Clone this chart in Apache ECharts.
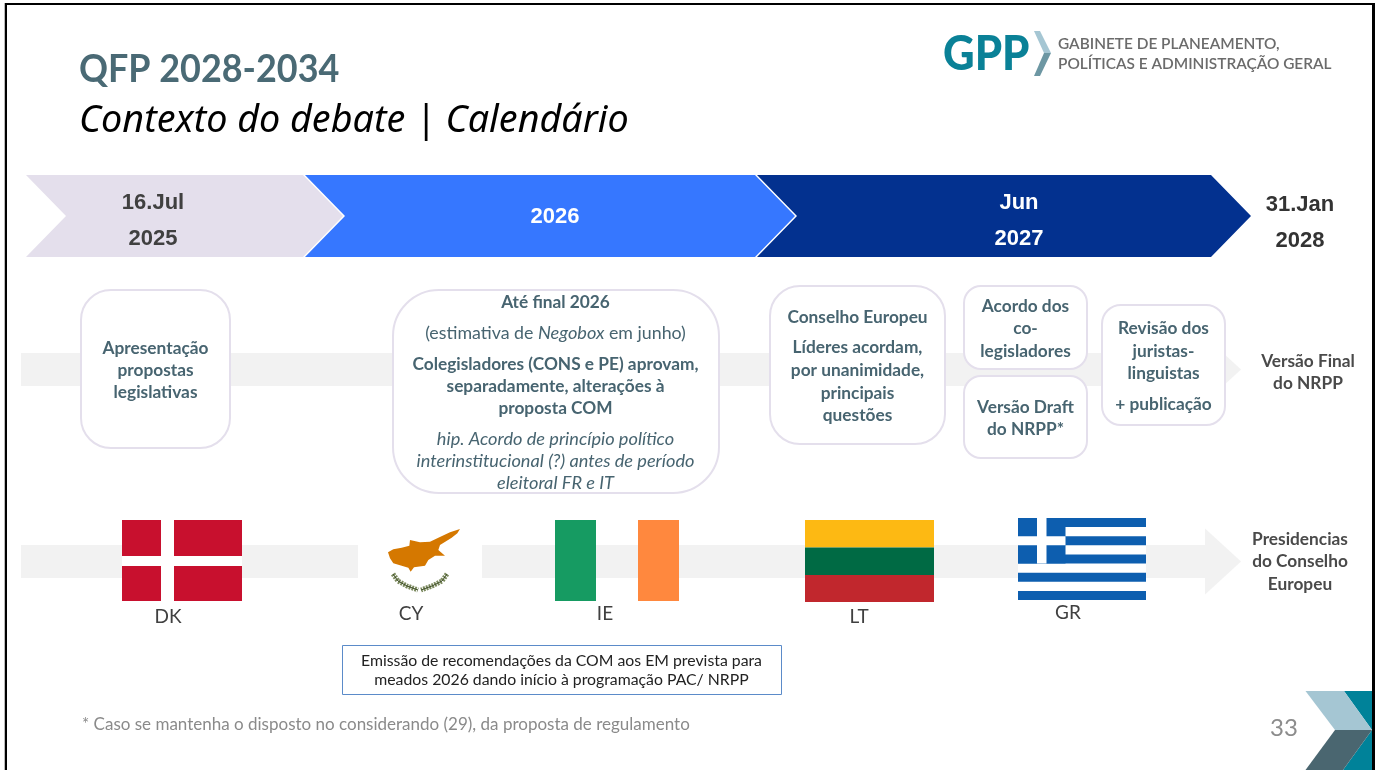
<!DOCTYPE html>
<html>
<head>
<meta charset="utf-8">
<title>QFP 2028-2034</title>
<script src="https://cdn.jsdelivr.net/npm/echarts@6/dist/echarts.min.js"></script>
<style>
  html, body { margin: 0; padding: 0; background: #fff; }
  #main { width: 1376px; height: 770px; }
</style>
</head>
<body>
<div id="main"></div>
<script>
// Textos do slide
const titulo = 'QFP 2028-2034';
const subtitulo = 'Contexto do debate | Calendário';
const logoSigla = 'GPP';
const logoNome = ['GABINETE DE PLANEAMENTO,', 'POLÍTICAS E ADMINISTRAÇÃO GERAL'];

const fases = [['16.Jul', '2025'], ['2026'], ['Jun', '2027']];
const faseFinal = ['31.Jan', '2028'];

const caixaApresentacao = ['Apresentação', 'propostas', 'legislativas'];
const caixaColegisladores = [
    'Até final 2026',
    '(estimativa de {i|Negobox} em junho)',
    'Colegisladores (CONS e PE) aprovam,',
    'separadamente, alterações à',
    'proposta COM',
    'hip. Acordo de princípio político',
    'interinstitucional (?) antes de período',
    'eleitoral FR e IT'
];
const caixaConselho = ['Conselho Europeu', 'Líderes acordam,', 'por unanimidade,', 'principais', 'questões'];
const caixaAcordo = ['Acordo dos', 'co-', 'legisladores'];
const caixaDraft = ['Versão Draft', 'do NRPP*'];
const caixaRevisao = ['Revisão dos', 'juristas-', 'linguistas', '+ publicação'];
const rotuloNrpp = ['Versão Final', 'do NRPP'];
const rotuloPresidencias = ['Presidencias', 'do Conselho', 'Europeu'];

const presidencias = ['DK', 'CY', 'IE', 'LT', 'GR'];
const recomendacoes = [
    'Emissão de recomendações da COM aos EM prevista para',
    'meados 2026 dando início à programação PAC/ NRPP'
];
const notaRodape = '* Caso se mantenha o disposto no considerando (29), da proposta de regulamento';
const numeroPagina = '33';

// Cores
const corTexto = '#476470';
const corEscura = '#4A4A4A';
const corBanda = '#F2F2F2';
const corBorda = '#E4DFEC';
const corTeal = '#0A8197';

const FONTE = 'Lato, "Noto Sans", sans-serif';
const ARIAL = '"Liberation Sans", Arial, sans-serif';

// Lista de elementos em unidades do slide, desenhados pela custom series
const elementos = [];

function poly(points, fill) {
    elementos.push({type: 'polygon', points, fill});
}
function rect(x, y, w, h, fill, stroke, lineWidth, r) {
    elementos.push({type: 'rect', x, y, w, h, fill, stroke, lineWidth, r});
}
function linha(points, stroke, lineWidth, lineDash) {
    elementos.push({type: 'polyline', points, stroke, lineWidth, lineDash});
}
function texto(text, x, y, font, fill, align, scaleX) {
    // +1: a linha média das fontes fica um pouco acima da do slide
    elementos.push({type: 'text', text, x, y: y + 1, font, fill, align: align || 'center', scaleX: scaleX || 1});
}
function linhas(arr, x, ys, font, fill) {
    arr.forEach((t, i) => texto(t, x, ys[i], Array.isArray(font) ? font[i] : font, fill));
}
function caixa(x0, y0, x1, y1, r) {
    rect(x0, y0, x1 - x0, y1 - y0, '#fff', corBorda, 2, r);
}
function seta(x0, x1, y, meia, xCabeca, xPonta, meiaCabeca) {
    rect(x0, y - meia, x1 - x0, meia * 2, corBanda);
    poly([[xCabeca, y - meiaCabeca], [xPonta, y], [xCabeca, y + meiaCabeca]], corBanda);
}

// Título e logótipo
texto(titulo, 79, 69, 'bold 38px ' + FONTE, '#4A6A75', 'left', 0.945);
texto(subtitulo, 79, 120, 'italic 37.7px "Noto Sans", sans-serif', '#000', 'left');
texto(logoSigla, 943, 54, '900 47px ' + FONTE, corTeal, 'left', 0.93);
poly([[1034, 31], [1040, 31], [1051, 53], [1044, 53]], '#A5C6D3');
poly([[1044, 53], [1051, 53], [1040, 76], [1034, 76]], '#6D97A3');
texto(logoNome[0], 1058, 43, '600 15.4px ' + FONTE, '#6B6B6B', 'left');
texto(logoNome[1], 1058, 63, '600 15.4px ' + FONTE, '#6B6B6B', 'left');

// Fases do calendário
const faseCor = ['#E4DFEC', '#3677FF', '#03318F'];
const faseTexto = ['#404040', '#fff', '#fff'];
const faseEixo = [[26, 303], [305, 755], [757, 1211]];
const faseCentro = [153, 555, 1019];
fases.forEach((f, i) => {
    const [a, b] = faseEixo[i];
    poly([[a, 175], [b, 175], [b + 40, 216], [b, 257], [a, 257], [a + 40, 216]], faseCor[i]);
    const ys = f.length === 1 ? [216] : [202, 238];
    linhas(f, faseCentro[i], ys, 'bold 22px ' + ARIAL, faseTexto[i]);
});
linhas(faseFinal, 1300, [204, 240], 'bold 22px ' + ARIAL, '#333');

// Bandas cinzentas
seta(21, 1206, 369.5, 16.5, 1205, 1241, 33);
rect(21, 545, 337, 33, corBanda);
seta(482, 1206, 561.5, 16.5, 1205, 1241, 33);

// Caixas
const B = 'bold 17.3px ' + FONTE;
const R = '17.8px ' + FONTE;
const I = 'italic 18.2px ' + FONTE;
caixa(81, 290, 230, 448, 30);
linhas(caixaApresentacao, 155.5, [347, 369, 391], B, corTexto);
caixa(393, 290, 719, 493, 46);
linhas(caixaColegisladores, 555.5, [301, 332, 363, 385, 407, 438, 460, 482], [B, R, B, B, B, I, I, I], corTexto);
caixa(770, 286, 945, 444, 30);
linhas(caixaConselho, 857.5, [316, 346, 369, 392, 414], B, corTexto);
caixa(964, 286, 1087, 369, 17);
linhas(caixaAcordo, 1025.5, [305, 327, 350], B, corTexto);
caixa(964, 376, 1087, 458, 17);
linhas(caixaDraft, 1025.5, [406, 428], B, corTexto);
caixa(1102, 305, 1225, 425, 19);
linhas(caixaRevisao, 1163.5, [327, 350, 372, 403], B, corTexto);
linhas(rotuloNrpp, 1308, [360, 382], B, corEscura);
linhas(rotuloPresidencias, 1300, [538, 560, 583], B, corEscura);

// Bandeira DK
rect(122, 520, 120, 81, '#C8102E');
rect(161, 520, 13, 81, '#fff');
rect(122, 556, 120, 10, '#fff');

// Bandeira CY
const ilha = [[270, 42], [240, 52], [205, 68], [180, 80], [150, 82], [120, 75], [118, 92], [95, 98], [70, 103], [54, 112], [60, 130], [70, 145], [95, 152], [115, 158], [122, 170], [132, 157], [165, 152], [175, 135], [195, 122], [225, 122], [205, 105], [210, 90], [245, 68], [262, 55]];
poly(ilha.map(p => [370 + p[0] / 3, 515 + p[1] / 3]), '#D57800');
linha([[393, 574], [398, 581], [407, 586], [418, 590]], '#7C8A5E', 5, [2, 1]);
linha([[447, 574], [442, 581], [432, 586], [421, 590]], '#7C8A5E', 5, [2, 1]);
linha([[393, 574], [398, 581], [407, 586], [418, 590]], '#3F4F2A', 1);
linha([[447, 574], [442, 581], [432, 586], [421, 590]], '#3F4F2A', 1);

// Bandeira IE
rect(555, 520, 41, 81, '#169B62');
rect(638, 520, 41, 81, '#FF883E');

// Bandeira LT
rect(805, 520, 129, 27.5, '#FDB913');
rect(805, 547.5, 129, 27.5, '#006A44');
rect(805, 575, 129, 27, '#C1272D');

// Bandeira GR
const azul = '#0D5EAF';
const faixa = 82 / 9;
rect(1018, 518, 128, 82, '#fff');
for (let i = 0; i < 9; i += 2) rect(1018, 518 + i * faixa, 128, faixa, azul);
rect(1018, 518, 47.5, faixa * 5, azul);
rect(1037, 518, 9.5, faixa * 5, '#fff');
rect(1018, 518 + 2 * faixa, 47.5, faixa, '#fff');

// Códigos dos países
const codigoX = [168, 411, 605, 859, 1068];
const codigoY = [616, 613, 613, 616, 612];
presidencias.forEach((p, i) => texto(p, codigoX[i], codigoY[i], '19px ' + FONTE, '#404040'));

// Recomendações
rect(342.5, 645.5, 439, 49, '#fff', '#5B8BC9', 1);
linhas(recomendacoes, 561.5, [660, 679], '15.8px ' + FONTE, '#222');

// Rodapé
texto(notaRodape, 82, 724, '17px ' + FONTE, '#8A8A8A', 'left');
texto(numeroPagina, 1284, 727, '24px ' + FONTE, '#8C8C8C');
poly([[1344, 691], [1372, 691], [1372, 730]], '#008299');
poly([[1372, 730], [1372, 770], [1343, 770]], '#008299');
poly([[1305.5, 691], [1344, 691], [1372, 730], [1335, 730]], '#A5C6D3');
poly([[1335, 730], [1372, 730], [1343, 770], [1305.5, 770]], '#4A6670');

// Moldura
rect(4, 3, 1, 767, '#BBBBBB');
rect(5, 3, 2, 767, '#000');
rect(5, 3, 1370, 2, '#000');
rect(1372, 3, 3, 767, '#000');

const richTexto = {i: {font: 'italic 18.2px ' + FONTE, fill: corTexto}};

function renderElemento(params, api) {
    const e = elementos[api.value(0)];
    if (e.type === 'polygon' || e.type === 'polyline') {
        return {
            type: e.type,
            shape: {points: e.points.map(p => api.coord(p))},
            style: e.type === 'polygon'
                ? {fill: e.fill}
                : {fill: null, stroke: e.stroke, lineWidth: e.lineWidth, lineDash: e.lineDash}
        };
    }
    const [x, y] = api.coord([e.x, e.y]);
    if (e.type === 'rect') {
        const [x1, y1] = api.coord([e.x + e.w, e.y + e.h]);
        return {
            type: 'rect',
            shape: {x, y, width: x1 - x, height: y1 - y, r: e.r || 0},
            style: {fill: e.fill, stroke: e.stroke || null, lineWidth: e.lineWidth || 0}
        };
    }
    return {
        type: 'text',
        x, y, scaleX: e.scaleX,
        style: {
            text: e.text, x: 0, y: 0, font: e.font, fill: e.fill,
            align: e.align, verticalAlign: 'middle',
            rich: e.text.includes('{i|') ? richTexto : undefined
        }
    };
}

const myChart = echarts.init(document.getElementById('main'));

myChart.setOption({
    animation: false,
    backgroundColor: '#fff',
    grid: {left: 0, right: 0, top: 0, bottom: 0},
    xAxis: {type: 'value', min: 0, max: 1376, show: false},
    yAxis: {type: 'value', min: 0, max: 770, inverse: true, show: false},
    series: [{
        type: 'custom',
        silent: true,
        clip: false,
        renderItem: renderElemento,
        encode: {x: 0, y: 1},
        data: elementos.map((e, i) => [i, 0])
    }]
});
</script>
</body>
</html>
